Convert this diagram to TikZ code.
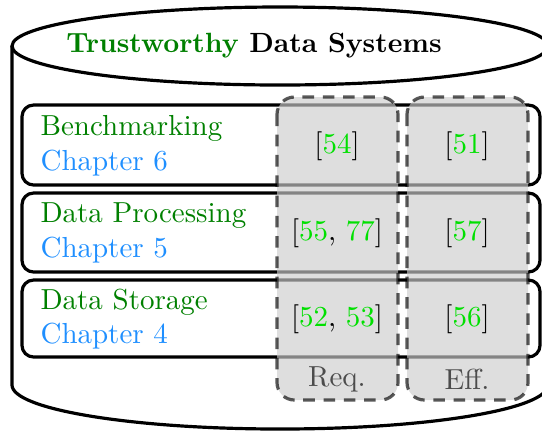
\documentclass[tikz,border=0pt]{standalone}
\usepackage{xcolor}
\usetikzlibrary{positioning}

\definecolor{trustgreen}{rgb}{0,0.5,0}
\definecolor{chapblue}{rgb}{0.12,0.56,1}
\definecolor{citegreen}{rgb}{0,0.88,0}

\begin{document}
\begin{tikzpicture}[%
  x=0.345pt,
  y=-0.345pt,
  row/.style={
    line width=1.1pt,
    rounded corners=4pt,},
  col/.style={
    draw=black,
    fill=black!20,
    opacity=0.65,
    line width=1.1pt,
    dash pattern=on 4pt off 3pt,
    rounded corners=6pt,},
  lbl/.style={anchor=west, align=left, inner sep=0pt},
  cite/.style={inner sep=0pt},
  colname/.style={inner sep=0pt, text=gray!60!black}
  ]
  \useasboundingbox (0,0) rectangle (542,430);
  \clip (0,0) rectangle (542,430);
  %% Cylinder
  \draw[line width=1.1pt] (12,46) -- (12,385)
    arc[start angle=180, end angle=0, x radius=268, y radius=44] -- (548,46);
  \draw[line width=1.1pt, fill=white] (280,46) ellipse[x radius=268, y radius=39];
  \node (title) at (254,46) {\fontsize{9.6}{11}\selectfont\bfseries\textcolor{trustgreen}{Trustworthy} Data Systems};
  %% Rows
  \draw[row] (22,105) rectangle (540,185);
  \draw[row] (22,193) rectangle (540,272);
  \draw[row] (22,280) rectangle (540,357);
  \node[lbl] (bench) at (40,146) {\textcolor{trustgreen}{Benchmarking}\\\textcolor{chapblue}{Chapter 6}};
  \node[lbl] (proc) at (40,233) {\textcolor{trustgreen}{Data Processing}\\\textcolor{chapblue}{Chapter 5}};
  \node[lbl] (stor) at (40,319) {\textcolor{trustgreen}{Data Storage}\\\textcolor{chapblue}{Chapter 4}};
  %% Columns
  \draw[col] (277,97) rectangle (398,400);
  \draw[col] (407,97) rectangle (528,400);
  \node[cite] (bench-req) at (337,146) {[\textcolor{citegreen}{54}]};
  \node[cite] (bench-eff) at (467,146) {[\textcolor{citegreen}{51}]};
  \node[cite] (proc-req) at (337,233) {[\textcolor{citegreen}{55}, \textcolor{citegreen}{77}]};
  \node[cite] (proc-eff) at (467,233) {[\textcolor{citegreen}{57}]};
  \node[cite] (stor-req) at (337,319) {[\textcolor{citegreen}{52}, \textcolor{citegreen}{53}]};
  \node[cite] (stor-eff) at (467,319) {[\textcolor{citegreen}{56}]};
  \node[colname] (req) at (337,379) {Req.};
  \node[colname] (eff) at (467,379) {Eff.};
\end{tikzpicture}
\end{document}
